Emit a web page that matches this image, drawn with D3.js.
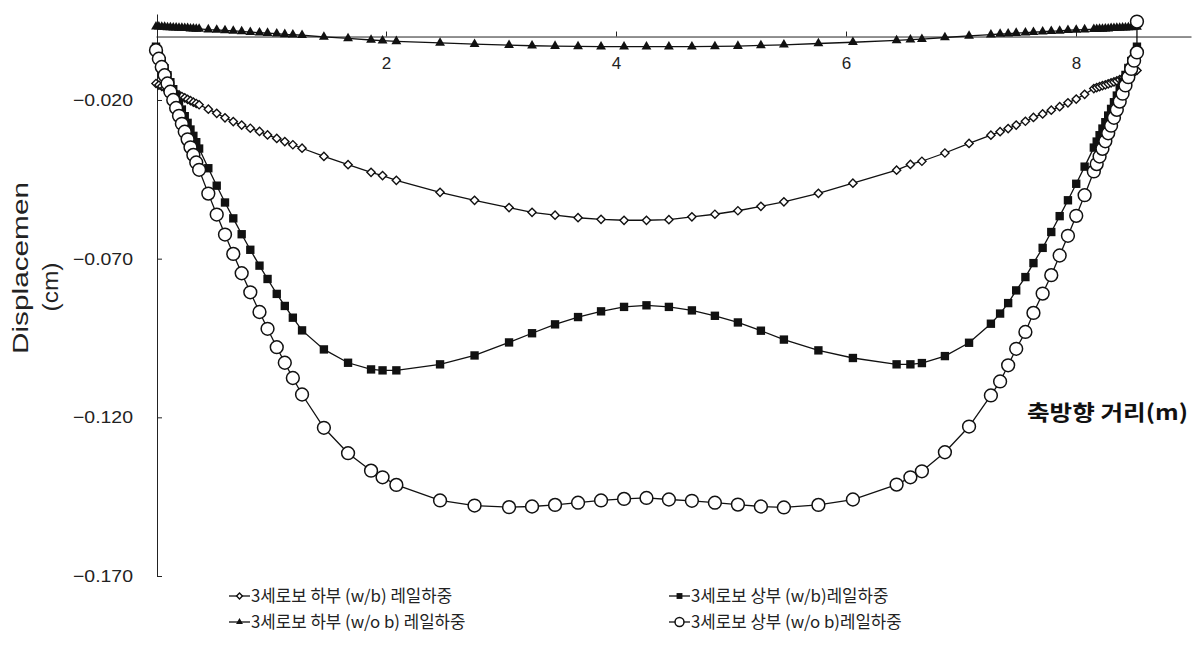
<!DOCTYPE html>
<html>
<head>
<meta charset="utf-8">
<script src="https://cdn.jsdelivr.net/npm/d3@7/dist/d3.min.js"></script>
<style>
    body { margin: 0; background: #fff; }
    svg { display: block; }
    .tick text { font-family: "Liberation Sans", Arial, sans-serif; }
</style>
</head>
<body>
<div id="graph"></div>
<script>
// stations along the beam (m)
const stations = [
    0, 0.025, 0.05, 0.075, 0.1, 0.125, 0.15, 0.175, 0.2, 0.225, 0.25, 0.275, 0.3, 0.325, 0.35, 0.375,
    0.455, 0.528, 0.60, 0.672, 0.745, 0.82, 0.90, 0.97, 1.05, 1.12, 1.19, 1.27,
    1.46, 1.67, 1.87, 1.97, 2.09,
    2.47, 2.77, 3.07, 3.27, 3.47, 3.67, 3.87, 4.07, 4.265, 4.46, 4.66, 4.86, 5.06, 5.26, 5.46, 5.76, 6.06,
    6.44, 6.56, 6.66, 6.86, 7.07,
    7.26, 7.34, 7.41, 7.48, 7.56, 7.63, 7.71, 7.785, 7.858, 7.93, 8.002, 8.075,
    8.155, 8.18, 8.205, 8.23, 8.255, 8.28, 8.305, 8.33, 8.355, 8.38, 8.405, 8.43, 8.455, 8.48, 8.505, 8.53
];

// 3세로보 하부 (w/b) 레일하중
const lowerWb = [
    -0.0148, -0.0153, -0.0157, -0.0162, -0.0166, -0.0171, -0.0175, -0.0180, -0.0184, -0.0189, -0.0193, -0.0198, -0.0202, -0.0207, -0.0211, -0.0215,
    -0.0229, -0.0242, -0.0256, -0.0268, -0.0279, -0.0289, -0.0299, -0.0310, -0.0321, -0.0331, -0.0341, -0.0352,
    -0.0378, -0.0404, -0.0428, -0.0438, -0.0453,
    -0.0491, -0.0516, -0.0539, -0.0554, -0.0563, -0.0571, -0.0576, -0.0579, -0.0579, -0.0577, -0.0568, -0.0560, -0.0549, -0.0535, -0.0521, -0.0494, -0.0462,
    -0.0421, -0.0403, -0.0393, -0.0367, -0.0337,
    -0.0311, -0.0300, -0.0290, -0.0279, -0.0267, -0.0255, -0.0244, -0.0232, -0.0221, -0.0209, -0.0197, -0.0182,
    -0.0164, -0.0161, -0.0158, -0.0155, -0.0152, -0.0149, -0.0146, -0.0143, -0.0140, -0.0136, -0.0132, -0.0128, -0.0124, -0.0119, -0.0113, -0.0107
];

// 3세로보 상부 (w/b)레일하중
const upperWb = [
    -0.0032, -0.0055, -0.0078, -0.0100, -0.0122, -0.0144, -0.0166, -0.0188, -0.0209, -0.0230, -0.0251, -0.0272, -0.0293, -0.0313, -0.0333, -0.0353,
    -0.0415, -0.0470, -0.0523, -0.0573, -0.0623, -0.0672, -0.0722, -0.0764, -0.0811, -0.0849, -0.0886, -0.0926,
    -0.0986, -0.1028, -0.1049, -0.1052, -0.1052,
    -0.1033, -0.1005, -0.0964, -0.0935, -0.0907, -0.0884, -0.0866, -0.0852, -0.0847, -0.0852, -0.0863, -0.0880, -0.0901, -0.0927, -0.0955, -0.0989, -0.1013,
    -0.1033, -0.1033, -0.1029, -0.1007, -0.0965,
    -0.0905, -0.0873, -0.0840, -0.0800, -0.0758, -0.0714, -0.0666, -0.0616, -0.0566, -0.0516, -0.0464, -0.0410,
    -0.0350, -0.0331, -0.0311, -0.0290, -0.0270, -0.0249, -0.0228, -0.0207, -0.0186, -0.0164, -0.0143, -0.0121, -0.0099, -0.0077, -0.0055, -0.0032
];

// 3세로보 하부 (w/o b) 레일하중
const lowerWob = [
    0.0031, 0.0031, 0.0030, 0.0030, 0.0029, 0.0029, 0.0028, 0.0028, 0.0027, 0.0027, 0.0026, 0.0026, 0.0025, 0.0025, 0.0024, 0.0024,
    0.0022, 0.0021, 0.0019, 0.0018, 0.0016, 0.0014, 0.0012, 0.0011, 0.0009, 0.0007, 0.0006, 0.0004,
    -0.0001, -0.0006, -0.0011, -0.0013, -0.0015,
    -0.0020, -0.0024, -0.0027, -0.0029, -0.0030, -0.0031, -0.0032, -0.0032, -0.0032, -0.0032, -0.0032, -0.0031, -0.0030, -0.0028, -0.0026, -0.0022, -0.0018,
    -0.0012, -0.0010, -0.0008, -0.0003, 0.0002,
    0.0006, 0.0008, 0.0009, 0.0011, 0.0012, 0.0014, 0.0015, 0.0017, 0.0018, 0.0020, 0.0021, 0.0022,
    0.0023, 0.0023, 0.0024, 0.0024, 0.0025, 0.0025, 0.0026, 0.0026, 0.0027, 0.0027, 0.0028, 0.0028, 0.0029, 0.0029, 0.0030, 0.0030
];

// 3세로보 상부 (w/o b)레일하중 (last point sits above the axis at the support)
const upperWob = [
    -0.0043, -0.0070, -0.0096, -0.0122, -0.0148, -0.0174, -0.0200, -0.0225, -0.0250, -0.0275, -0.0300, -0.0324, -0.0349, -0.0373, -0.0397, -0.0420,
    -0.0495, -0.0561, -0.0624, -0.0685, -0.0746, -0.0806, -0.0868, -0.0921, -0.0979, -0.1028, -0.1076, -0.1128,
    -0.1233, -0.1313, -0.1368, -0.1389, -0.1413,
    -0.1462, -0.1478, -0.1483, -0.1481, -0.1476, -0.1469, -0.1462, -0.1457, -0.1454, -0.1459, -0.1463, -0.1469, -0.1475, -0.1481, -0.1484, -0.1476, -0.1459,
    -0.1412, -0.1389, -0.1370, -0.1310, -0.1229,
    -0.1131, -0.1087, -0.1036, -0.0984, -0.0931, -0.0871, -0.0810, -0.0752, -0.0690, -0.0628, -0.0565, -0.0500,
    -0.0425, -0.0402, -0.0378, -0.0354, -0.0330, -0.0305, -0.0281, -0.0256, -0.0231, -0.0205, -0.0180, -0.0154, -0.0128, -0.0102, -0.0076, -0.0050,
    0.0047
];
const upperWobStations = stations.concat([8.53]);

const xTicks = [2, 4, 6, 8];
const yTicks = [-0.020, -0.070, -0.120, -0.170];
const seriesLabels = [
    "3세로보 하부 (w/b) 레일하중",
    "3세로보 상부 (w/b)레일하중",
    "3세로보 하부 (w/o b) 레일하중",
    "3세로보 상부 (w/o b)레일하중"
];

const width = 1196, height = 651;

let svg = d3.select("#graph")
    .append("svg")
    .attr("width", width)
    .attr("height", height);

let x = d3.scaleLinear().domain([0, 9]).range([156, 1191]);
let y = d3.scaleLinear().domain([-0.170, 0.0071]).range([576, 14]);

// x axis runs along zero
let xAxis = svg.append("g")
    .attr("transform", `translate(0, ${y(0)})`)
    .call(d3.axisBottom(x).tickValues(xTicks).tickFormat(d3.format("d"))
        .tickSizeInner(-5).tickSizeOuter(0).tickPadding(20));
xAxis.select(".domain").attr("stroke", "#222");
xAxis.selectAll(".tick line").attr("stroke", "#222");
xAxis.selectAll(".tick text").attr("font-size", 17).attr("fill", "#222");

let yAxis = svg.append("g")
    .attr("transform", `translate(${x(0) + 1}, 0)`)
    .call(d3.axisLeft(y).tickValues(yTicks).tickFormat(d3.format(".3f"))
        .tickSizeInner(-5).tickSizeOuter(0).tickPadding(24));
yAxis.select(".domain").attr("stroke", "#222");
yAxis.selectAll(".tick line").attr("stroke", "#222");
yAxis.selectAll(".tick text")
    .attr("font-size", 17)
    .attr("fill", "#222")
    .attr("textLength", 60)
    .attr("lengthAdjust", "spacingAndGlyphs");

// axis titles
svg.append("text")
    .attr("transform", "translate(28, 268) rotate(-90)")
    .attr("text-anchor", "middle")
    .attr("font-family", "Liberation Sans, Arial, sans-serif")
    .attr("font-size", 22)
    .attr("fill", "#222")
    .attr("textLength", 172)
    .attr("lengthAdjust", "spacingAndGlyphs")
    .text("Displacemen");
svg.append("text")
    .attr("transform", "translate(58, 287) rotate(-90)")
    .attr("text-anchor", "middle")
    .attr("font-family", "Liberation Sans, Arial, sans-serif")
    .attr("font-size", 22)
    .attr("fill", "#222")
    .attr("textLength", 49)
    .attr("lengthAdjust", "spacingAndGlyphs")
    .text("(cm)");

svg.append("text")
    .attr("x", 1027)
    .attr("y", 420)
    .attr("font-family", "Noto Sans CJK KR, sans-serif")
    .attr("font-weight", "bold")
    .attr("font-size", 21)
    .attr("fill", "#111")
    .attr("textLength", 161)
    .attr("lengthAdjust", "spacingAndGlyphs")
    .text("축방향 거리(m)");

// marker shapes
const diamond = d3.symbol().type(d3.symbolSquare).size(34);
const square = d3.symbol().type(d3.symbolSquare).size(70);
const triangle = d3.symbol().type(d3.symbolTriangle).size(42);

let series = [
    { xs: stations, ys: lowerWb, kind: "diamond" },
    { xs: stations, ys: upperWb, kind: "square" },
    { xs: stations, ys: lowerWob, kind: "triangle" },
    { xs: upperWobStations, ys: upperWob, kind: "circle" }
];

let line = d3.line()
    .x(d => x(d[0]))
    .y(d => y(d[1]));

function drawMarker(g, kind, px, py, scale) {
    if (kind == "circle") {
        g.append("circle")
            .attr("cx", px).attr("cy", py).attr("r", 6.4 * scale)
            .attr("fill", "#fff").attr("stroke", "#111").attr("stroke-width", 1.5);
    } else if (kind == "diamond") {
        g.append("path")
            .attr("d", diamond.size(34 * scale * scale)())
            .attr("transform", `translate(${px},${py}) rotate(45)`)
            .attr("fill", "#fff").attr("stroke", "#111").attr("stroke-width", 1.4);
    } else if (kind == "square") {
        g.append("path")
            .attr("d", square.size(70 * scale * scale)())
            .attr("transform", `translate(${px},${py})`)
            .attr("fill", "#111");
    } else {
        g.append("path")
            .attr("d", triangle.size(42 * scale * scale)())
            .attr("transform", `translate(${px},${py})`)
            .attr("fill", "#111");
    }
}

for (let s of series) {
    let pts = s.xs.map((v, i) => [v, s.ys[i]]);
    let g = svg.append("g");
    g.append("path")
        .datum(pts)
        .attr("d", line)
        .attr("fill", "none")
        .attr("stroke", "#111")
        .attr("stroke-width", 1.3);
    for (let p of pts) {
        drawMarker(g, s.kind, x(p[0]), y(p[1]), 1);
    }
}

// legend, two columns by two rows
const legendCols = [229, 669];
const legendRows = [596, 622];
seriesLabels.forEach(function (label, i) {
    let lx = legendCols[i % 2];
    let ly = legendRows[Math.floor(i / 2)];
    let g = svg.append("g");
    g.append("line")
        .attr("x1", lx).attr("x2", lx + 21)
        .attr("y1", ly).attr("y2", ly)
        .attr("stroke", "#111").attr("stroke-width", 1.3);
    drawMarker(g, series[i].kind, lx + 10.5, ly, 0.7);
    g.append("text")
        .attr("x", lx + 22)
        .attr("y", ly)
        .attr("dy", "0.36em")
        .attr("font-family", "Noto Sans CJK KR, sans-serif")
        .attr("font-size", 16.8)
        .attr("fill", "#222")
        .text(label);
});
</script>
</body>
</html>
